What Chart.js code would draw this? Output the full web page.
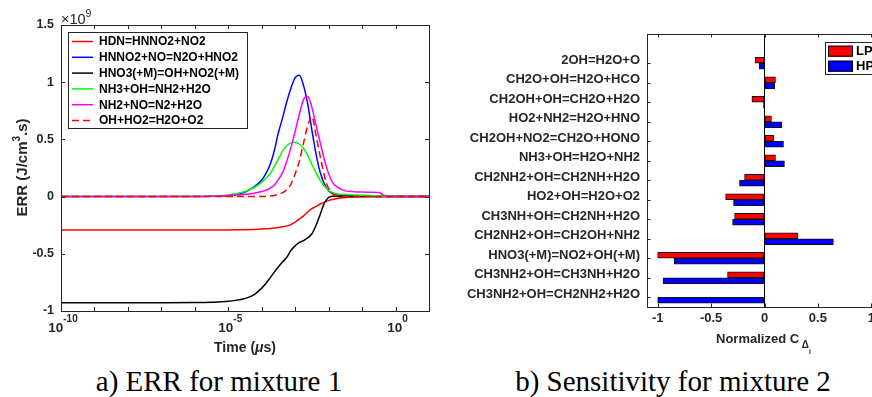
<!DOCTYPE html>
<html>
<head>
<meta charset="utf-8">
<title>ERR and sensitivity</title>
<script src="https://cdn.jsdelivr.net/npm/chart.js@4.4.1/dist/chart.umd.min.js"></script>
<style>
  html, body { margin: 0; padding: 0; background: #fff; }
  body { position: relative; width: 872px; height: 397px; overflow: hidden; }
  .panel { position: absolute; top: 0; height: 360px; }
  #errPanel { left: 0; width: 440px; }
  #sensPanel { left: 440px; width: 450px; }
  .caption { position: absolute; top: 367px; font: 29px/29px "Liberation Serif", "Times New Roman", serif; color: #000; white-space: nowrap; transform: translateX(-50%); }
</style>
</head>
<body>
<div class="panel" id="errPanel"><canvas id="errChart"></canvas></div>
<div class="panel" id="sensPanel"><canvas id="sensChart"></canvas></div>
<div class="caption" style="left:219px">a) ERR for mixture 1</div>
<div class="caption" style="left:673px">b) Sensitivity for mixture 2</div>
<script>
/* ---- a) ERR for mixture 1: time in µs, ERR in 1e9 J/cm3.s ---- */
const errTimes = [1e-10, 1e-7, 1e-6, 3.16e-6, 1e-5, 1.78e-5, 3.16e-5, 5.62e-5,
  1e-4, 1.33e-4, 1.78e-4, 2.37e-4, 3.16e-4, 4.22e-4, 5.62e-4, 7.5e-4,
  1e-3, 1.33e-3, 1.78e-3, 2.37e-3, 3.16e-3, 4.22e-3, 5.62e-3, 7.5e-3,
  1e-2, 1.33e-2, 1.78e-2, 3.16e-2, 5.62e-2, 0.1, 0.178, 0.316, 0.562, 1, 3.16, 10];
const errHDN = [-0.292, -0.292, -0.292, -0.292, -0.291, -0.290, -0.289, -0.287, -0.284, -0.282,
  -0.279, -0.275, -0.270, -0.264, -0.256, -0.245, -0.222, -0.195, -0.168, -0.135,
  -0.106, -0.085, -0.065, -0.048, -0.035, -0.025, -0.016, -0.007, -0.003, -0.001, 0, 0, 0, 0, 0, 0];
const errHNNO2 = [0, 0, 0, 0.003, 0.01, 0.02, 0.04, 0.08, 0.145, 0.2,
  0.28, 0.4, 0.56, 0.69, 0.83, 0.95, 1.04, 1.06, 0.97, 0.81,
  0.58, 0.37, 0.21, 0.11, 0.05, 0.025, 0.015, 0.01, 0.008, 0.005, 0.003, 0.001, 0, 0, 0, 0];
const errHNO3 = [-0.927, -0.927, -0.926, -0.923, -0.915, -0.905, -0.89, -0.862, -0.80, -0.76,
  -0.71, -0.66, -0.614, -0.57, -0.53, -0.47, -0.43, -0.40, -0.385, -0.36,
  -0.325, -0.25, -0.155, -0.055, -0.008, 0.003, 0.002, 0.001, 0, 0, 0, 0, 0, 0, 0, 0];
const errNH3 = [0, 0, 0.002, 0.006, 0.015, 0.027, 0.045, 0.075, 0.125, 0.16,
  0.2, 0.26, 0.33, 0.40, 0.445, 0.47, 0.475, 0.46, 0.42, 0.36,
  0.28, 0.21, 0.14, 0.09, 0.055, 0.035, 0.025, 0.018, 0.015, 0.012, 0.01, 0.006, 0.001, 0, 0, 0];
const errNH2 = [0, 0, 0.001, 0.004, 0.01, 0.014, 0.02, 0.028, 0.045, 0.055,
  0.075, 0.1, 0.15, 0.21, 0.31, 0.43, 0.57, 0.72, 0.85, 0.875,
  0.78, 0.62, 0.47, 0.32, 0.2, 0.12, 0.085, 0.05, 0.043, 0.04, 0.038, 0.035, 0, 0, 0, 0];
const errOHHO2 = [0, 0, 0, 0, 0, 0, 0, 0, 0, 0.002,
  0.005, 0.01, 0.02, 0.035, 0.06, 0.11, 0.2, 0.31, 0.47, 0.62,
  0.70, 0.53, 0.35, 0.18, 0.07, 0.025, 0.01, 0.003, 0, 0, 0, 0, 0, 0, 0, 0];
const errLabels = ['HDN=HNNO2+NO2', 'HNNO2+NO=N2O+HNO2', 'HNO3(+M)=OH+NO2(+M)',
  'NH3+OH=NH2+H2O', 'NH2+NO=N2+H2O', 'OH+HO2=H2O+O2'];
const errDecades = [1e-10, 1e-9, 1e-8, 1e-7, 1e-6, 1e-5, 1e-4, 1e-3, 1e-2, 1e-1, 1, 10];
const errTickVals = [1e-10, 1e-5, 1];
const errTickExp = ['-10', '-5', '0'];
const errYTicks = [-1, -0.5, 0, 0.5, 1, 1.5];

/* ---- b) Sensitivity for mixture 2 (top row first) ---- */
const sensReactions = ['2OH=H2O+O', 'CH2O+OH=H2O+HCO', 'CH2OH+OH=CH2O+H2O', 'HO2+NH2=H2O+HNO',
  'CH2OH+NO2=CH2O+HONO', 'NH3+OH=H2O+NH2', 'CH2NH2+OH=CH2NH+H2O', 'HO2+OH=H2O+O2',
  'CH3NH+OH=CH2NH+H2O', 'CH2NH2+OH=CH2OH+NH2', 'HNO3(+M)=NO2+OH(+M)',
  'CH3NH2+OH=CH3NH+H2O', 'CH3NH2+OH=CH2NH2+H2O'];
const sensLP = [-0.087, 0.103, -0.118, 0.065, 0.087, 0.103, -0.187, -0.364, -0.28, 0.312, -1.0, -0.346, 0];
const sensHP = [-0.05, 0.095, -0.01, 0.162, 0.178, 0.187, -0.234, -0.29, -0.299, 0.645, -0.847, -0.95, -1.0];
const sensSeries = ['LP', 'HP'];
const sensXTicks = [-1, -0.5, 0, 0.5, 1];

/* ---- shared look ---- */
const INK = '#262626';
const SANS = '"Liberation Sans", Arial, Helvetica, sans-serif';
const f = (size, weight = 'bold', style = '') => `${style} ${weight} ${size}px ${SANS}`;
Chart.defaults.font.family = SANS;
Chart.defaults.color = INK;

const ERR_STYLE = [
  { color: '#ff0000' }, { color: '#0000ff' }, { color: '#000000' },
  { color: '#00ff00' }, { color: '#ff00ff' }, { color: '#ff0000', dash: [7, 4] },
];

/* ---- plugin: matlab box with inward ticks ---- */
const axesBox = {
  id: 'axesBox',
  afterDatasetsDraw(chart, args, o) {
    const { ctx, chartArea: a, scales } = chart;
    ctx.save();
    ctx.strokeStyle = INK;
    ctx.lineWidth = 1;
    ctx.strokeRect(a.left + 0.5, a.top + 0.5, a.right - a.left, a.bottom - a.top);
    ctx.beginPath();
    scales.x.ticks.forEach(t => {
      const px = Math.round(scales.x.getPixelForValue(t.value)) + 0.5;
      ctx.moveTo(px, a.bottom); ctx.lineTo(px, a.bottom - o.len);
      ctx.moveTo(px, a.top); ctx.lineTo(px, a.top + o.len);
    });
    scales.y.ticks.forEach(t => {
      const py = Math.round(scales.y.getPixelForValue(t.value)) + 0.5;
      ctx.moveTo(a.left, py); ctx.lineTo(a.left + o.len, py);
      if (o.rightTicks) { ctx.moveTo(a.right, py); ctx.lineTo(a.right - o.len, py); }
    });
    ctx.stroke();
    ctx.restore();
  }
};

/* ---- plugin: boxed legend at a fixed spot ---- */
const boxLegend = {
  id: 'boxLegend',
  afterDraw(chart, args, o) {
    const { ctx } = chart;
    ctx.save();
    ctx.fillStyle = '#fff';
    ctx.fillRect(o.x, o.y, o.w, o.h);
    ctx.strokeStyle = INK;
    ctx.lineWidth = 1;
    ctx.strokeRect(o.x + 0.5, o.y + 0.5, o.w, o.h);
    ctx.font = f(o.size);
    ctx.textBaseline = 'middle';
    chart.data.datasets.forEach((ds, i) => {
      const y = o.first + i * o.step;
      if (o.kind === 'line') {
        ctx.strokeStyle = ds.borderColor;
        ctx.lineWidth = ds.borderWidth;
        ctx.setLineDash(ds.borderDash || []);
        ctx.beginPath();
        ctx.moveTo(o.x + 4, y); ctx.lineTo(o.x + 25, y);
        ctx.stroke();
        ctx.setLineDash([]);
      } else {
        ctx.fillStyle = ds.backgroundColor;
        ctx.fillRect(o.x + 3, y - 5.5, 25, 11);
        ctx.strokeStyle = '#000';
        ctx.strokeRect(o.x + 3.5, y - 5, 24, 10);
      }
      ctx.fillStyle = '#000';
      ctx.fillText(ds.label, o.x + o.textX, y + 0.5);
    });
    ctx.restore();
  }
};

/* ---- plugin: axis titles, exponent labels ---- */
function drawRuns(ctx, { runs, x, y, align = 'center', rotate = 0 }) {
  ctx.save();
  ctx.translate(x, y);
  ctx.rotate(rotate);
  ctx.fillStyle = INK;
  ctx.textBaseline = 'alphabetic';
  let w = 0;
  runs.forEach(r => { ctx.font = r.font; w += ctx.measureText(r.text).width; });
  let cx = align === 'center' ? -w / 2 : 0;
  runs.forEach(r => {
    ctx.font = r.font;
    ctx.fillText(r.text, cx, r.dy || 0);
    cx += ctx.measureText(r.text).width;
  });
  ctx.restore();
}

const axisText = {
  id: 'axisText',
  afterDraw(chart, args, o) {
    const ctx = chart.ctx;
    (o.items || []).forEach(item => drawRuns(ctx, item));
    if (o.expTicks) {
      const sx = chart.scales.x;
      o.expTicks.values.forEach((v, i) => drawRuns(ctx, {
        runs: [{ text: '10', font: f(13.5) }, { text: o.expTicks.exps[i], font: f(10), dy: -9.5 }],
        x: sx.getPixelForValue(v) + 2, y: o.expTicks.baseline,
      }));
    }
  }
};

/* ---- chart a) ---- */
const errSeries = [errHDN, errHNNO2, errHNO3, errNH3, errNH2, errOHHO2];

new Chart(document.getElementById('errChart'), {
  type: 'line',
  data: {
    datasets: errSeries.map((vals, i) => ({
      label: errLabels[i],
      data: vals.map((v, k) => ({ x: errTimes[k], y: v })),
      borderColor: ERR_STYLE[i].color,
      borderDash: ERR_STYLE[i].dash,
      borderWidth: 1.5,
      pointRadius: 0,
      fill: false,
      cubicInterpolationMode: 'monotone',
      order: errSeries.length - i,
    })),
  },
  options: {
    responsive: true,
    maintainAspectRatio: false,
    animation: false,
    layout: { padding: { left: 0, right: 11, top: 25, bottom: 0 } },
    plugins: {
      legend: { display: false },
      tooltip: { enabled: false },
      axesBox: { len: 4, rightTicks: true },
      boxLegend: { kind: 'line', x: 68, y: 32, w: 179, h: 96, first: 41.5, step: 15.8, textX: 31, size: 12 },
      axisText: {
        items: [
          { runs: [{ text: '×10', font: f(14.5, 'normal') }, { text: '9', font: f(10.5, 'normal'), dy: -7 }], x: 61, y: 23.5, align: 'left' },
          { runs: [{ text: 'ERR (J/cm', font: f(15) }, { text: '3', font: f(10), dy: -7 }, { text: '.s)', font: f(15) }], x: 27, y: 167.5, rotate: -Math.PI / 2 },
          { runs: [{ text: 'Time (', font: f(14) }, { text: 'μ', font: f(14, 'bold', 'italic') }, { text: 's)', font: f(14) }], x: 245, y: 352 },
        ],
        expTicks: { values: errTickVals, exps: errTickExp, baseline: 331.5 },
      },
    },
    scales: {
      x: {
        type: 'logarithmic',
        min: 1e-10,
        max: 10,
        afterBuildTicks: s => { s.ticks = errDecades.map(v => ({ value: v })); },
        afterFit: s => { s.height = 49; },
        ticks: { display: false },
        grid: { display: false, drawTicks: false },
        border: { display: false },
      },
      y: {
        min: -1,
        max: 1.5,
        afterBuildTicks: s => { s.ticks = errYTicks.map(v => ({ value: v })); },
        afterFit: s => { s.width = 61; },
        ticks: { padding: 7, color: INK, font: { size: 12.5, weight: 'bold' }, callback: v => String(v) },
        grid: { display: false, drawTicks: false },
        border: { display: false },
      },
    },
  },
  plugins: [axesBox, boxLegend, axisText],
});

/* ---- chart b) ---- */
const SENS_COLORS = ['#ff0000', '#0000ff'];

new Chart(document.getElementById('sensChart'), {
  type: 'bar',
  data: {
    datasets: [sensLP, sensHP].map((vals, i) => ({
      label: sensSeries[i],
      data: vals.map((v, k) => ({ x: v, y: k + 1 })),
      backgroundColor: SENS_COLORS[i],
      borderColor: '#111',
      borderWidth: 1,
      borderSkipped: false,
      barThickness: 6,
    })),
  },
  options: {
    indexAxis: 'y',
    responsive: true,
    maintainAspectRatio: false,
    animation: false,
    layout: { padding: { left: 0, right: 8, top: 34, bottom: 0 } },
    plugins: {
      legend: { display: false },
      tooltip: { enabled: false },
      axesBox: { len: 3.5, rightTicks: false },
      boxLegend: { kind: 'box', x: 385, y: 42, w: 70, h: 32, first: 51.2, step: 15, textX: 31, size: 13 },
      axisText: {
        items: [
          { runs: [{ text: 'Normalized C', font: f(13) }, { text: ' Δ', font: f(10), dy: 5 }, { text: 'i', font: f(7), dy: 11 }], x: 276, y: 342.5, align: 'left' },
        ],
      },
    },
    scales: {
      x: {
        type: 'linear',
        min: -1.1,
        max: 1.1,
        afterBuildTicks: s => { s.ticks = sensXTicks.map(v => ({ value: v })); },
        afterFit: s => { s.height = 53; },
        ticks: { padding: 4, color: INK, font: { size: 13, weight: 'bold' }, callback: v => String(v) },
        grid: { drawTicks: false, lineWidth: 1, color: c => (c.tick && c.tick.value === 0 ? '#000' : 'rgba(0,0,0,0)') },
        border: { display: false },
      },
      y: {
        type: 'linear',
        reverse: true,
        offset: false,
        min: -0.5,
        max: 13.5,
        afterBuildTicks: s => { s.ticks = sensReactions.map((_, k) => ({ value: k + 1 })); },
        afterFit: s => { s.width = 207; },
        ticks: { autoSkip: false, padding: 7, labelOffset: -3, color: INK, font: { size: 13, weight: 'bold' }, callback: v => sensReactions[v - 1] },
        grid: { display: false, drawTicks: false, offset: false },
        border: { display: false },
      },
    },
  },
  plugins: [axesBox, boxLegend, axisText],
});
</script>
</body>
</html>
